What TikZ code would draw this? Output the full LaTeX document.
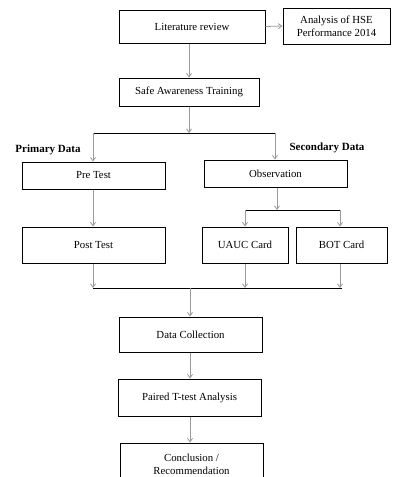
\documentclass[tikz,border=0pt]{standalone}
\usepackage{fontspec}
\setmainfont{Liberation Serif}
\usetikzlibrary{arrows.meta}

\begin{document}
\begin{tikzpicture}[x=1pt,y=-1pt,
   box/.style={draw,line width=1pt,align=center,inner sep=0pt,font=\fontsize{10.8}{13}\selectfont},
   arr/.style={draw=gray!80,line width=0.8pt,-{Straight Barb[length=3.5pt,width=5pt]}},
   busline/.style={line width=0.9pt},
   lab/.style={font=\fontsize{11}{13}\selectfont\bfseries}]
   \clip (0,0) rectangle (392,477);
   \node[box,minimum width=146pt,minimum height=33pt] (lit) at (192,26.5) {Literature review};
   \node[box,minimum width=107pt,minimum height=36pt] (hse) at (336.5,26) {Analysis of HSE\\Performance 2014};
   \node[box,minimum width=140pt,minimum height=28pt] (safe) at (189,92) {Safe Awareness Training};
   \node[box,minimum width=143pt,minimum height=27pt] (pre) at (93.5,175.5) {Pre Test};
   \node[box,minimum width=143pt,minimum height=36pt] (post) at (93.5,245) {Post Test};
   \node[box,minimum width=143pt,minimum height=27pt] (obs) at (275.5,173.5) {Observation};
   \node[box,minimum width=86pt,minimum height=36pt] (uauc) at (245,245) {UAUC Card};
   \node[box,minimum width=91pt,minimum height=36pt] (bot) at (341.5,245) {BOT Card};
   \node[box,minimum width=143pt,minimum height=35pt] (data) at (190.5,334.5) {Data Collection};
   \node[box,minimum width=143pt,minimum height=37pt] (paired) at (189.5,397.5) {Paired T-test Analysis};
   \node[box,minimum width=143pt,minimum height=42pt] (concl) at (191.5,464) {Conclusion /\\Recommendation};
   \node[lab] (prim) at (48,150) {Primary Data};
   \node[lab] (sec) at (327,148) {Secondary Data};

   \coordinate (s1) at (93,133);
   \coordinate (s2) at (275,133);
   \coordinate (oc) at (277,210);
   \coordinate (o1) at (245,210);
   \coordinate (o2) at (340,210);
   \coordinate (j1) at (93,288);
   \coordinate (j2) at (342,288);
   \coordinate (jc) at (190,288);

   \draw[arr] (lit.east) -- (hse.west);
   \draw[arr] (lit.south -| safe.north) -- (safe.north);
   \draw[arr] (safe.south) -- (safe.south |- s1);
   \draw[busline] (s1) -- (s2);
   \draw[arr] (s1) -- (s1 |- pre.north);
   \draw[arr] (s2) -- (s2 |- obs.north);
   \draw[arr] (pre.south -| s1) -- (post.north -| s1);
   \draw[arr] (obs.south -| oc) -- (oc);
   \draw[busline] (o1) -- (o2);
   \draw[arr] (o1) -- (o1 |- uauc.north);
   \draw[arr] (o2) -- (o2 |- bot.north);
   \draw[busline] (j1) -- (j2);
   \draw[arr] (post.south -| j1) -- (j1);
   \draw[arr] (uauc.south) -- (uauc.south |- j1);
   \draw[arr] (bot.south -| o2) -- (o2 |- j1);
   \draw[arr] (jc) -- (jc |- data.north);
   \draw[arr] (data.south -| jc) -- (jc |- paired.north);
   \draw[arr] (paired.south -| jc) -- (jc |- concl.north);
\end{tikzpicture}
\end{document}
